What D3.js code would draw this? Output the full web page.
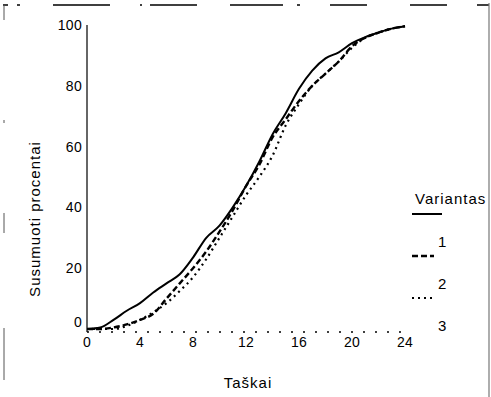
<!DOCTYPE html>
<html>
<head>
<meta charset="utf-8">
<script src="https://cdn.jsdelivr.net/npm/d3@7"></script>
<style>
  body { margin: 0; background: #fff; }
  svg { display: block; font-family: "Liberation Sans", Arial, sans-serif; }
</style>
</head>
<body>
<div id="chart"></div>
<script>
const width = 491;
const height = 397;

// scores 0..24
const points = d3.range(0, 25);
const xTicks = [0, 4, 8, 12, 16, 20, 24];
const yTicks = [0, 20, 40, 60, 80, 100];

// cumulative percent per variant
const variant1 = [0, 0.5, 3, 6, 8.5, 12, 15, 18, 23.5, 30, 34, 40, 47, 55, 64, 71, 79, 85, 89, 91, 94, 96, 97.5, 98.8, 99.6];
const variant2 = [0, 0, 0.5, 1.5, 3, 5, 10, 15, 20, 25.5, 32, 39, 47, 54, 63, 69, 75, 80, 84, 88, 93, 95.8, 97.5, 98.8, 99.6];
const variant3 = [0, 0, 0, 1, 3, 5.5, 8.5, 12.5, 17, 23, 30, 37, 44, 50, 57, 67, 74, 80, 84, 88, 92.5, 95.8, 97.5, 98.8, 99.6];
const variantNames = ["1", "2", "3"];

const series = [
	{ name: variantNames[0], values: variant1, dash: null, w: 2 },
	{ name: variantNames[1], values: variant2, dash: "6,3", w: 2.4 },
	{ name: variantNames[2], values: variant3, dash: "2,4", w: 2.2 }
];

const svg = d3.select("#chart")
	.append("svg")
	.attr("width", width)
	.attr("height", height);

// scanned page frame fragments
svg.append("line")
	.attr("x1", 3).attr("y1", 5).attr("x2", 489).attr("y2", 5)
	.attr("stroke", "#000").attr("stroke-width", 1.5)
	.attr("stroke-dasharray", "5,9,3,33,57,30,2,8,47,33,53,14,3,30,37,43,37,30,12");
svg.append("line")
	.attr("x1", 489).attr("y1", 3).attr("x2", 489).attr("y2", 397)
	.attr("stroke", "#777").attr("stroke-width", 1.2);
svg.append("line")
	.attr("x1", 4).attr("y1", 5).attr("x2", 4).attr("y2", 380)
	.attr("stroke", "#555").attr("stroke-width", 1)
	.attr("stroke-dasharray", "15,100,3,90,20,95,53");

const x = d3.scaleLinear().domain([0, 24]).range([87, 405]);
const y = d3.scaleLinear().domain([0, 100]).range([329, 25]);

// y axis
svg.append("line")
	.attr("x1", 87).attr("x2", 87)
	.attr("y1", y(100)).attr("y2", 332)
	.attr("stroke", "#333").attr("stroke-width", 1.5);

svg.selectAll(".ylab")
	.data(yTicks)
	.enter()
	.append("text")
	.attr("class", "ylab")
	.attr("x", 82)
	.attr("y", d => (d === 0 ? y(d) - 2 : y(d) + 5))
	.attr("text-anchor", "end")
	.style("font-size", "14px")
	.style("letter-spacing", "0.3px")
	.text(d => d);

// x axis (broken in the scan)
svg.append("line")
	.attr("x1", x(0)).attr("x2", x(24))
	.attr("y1", 332).attr("y2", 332)
	.attr("stroke", "#000").attr("stroke-width", 1.4)
	.attr("stroke-dasharray", "2,10");

svg.selectAll(".xlab")
	.data(xTicks)
	.enter()
	.append("text")
	.attr("class", "xlab")
	.attr("x", d => x(d))
	.attr("y", 347)
	.attr("text-anchor", "middle")
	.style("font-size", "14px")
	.style("letter-spacing", "0.3px")
	.text(d => d);

// axis titles
svg.append("text")
	.attr("transform", "translate(40,219) rotate(-90)")
	.attr("text-anchor", "middle")
	.style("font-size", "15px")
	.style("letter-spacing", "1px")
	.text("Susumuoti procentai");

svg.append("text")
	.attr("x", 248)
	.attr("y", 388)
	.attr("text-anchor", "middle")
	.style("font-size", "15px")
	.style("letter-spacing", "1px")
	.text("Taškai");

// curves
const line = d3.line()
	.x((d, i) => x(points[i]))
	.y(d => y(d))
	.curve(d3.curveMonotoneX);

svg.selectAll(".curve")
	.data(series)
	.enter()
	.append("path")
	.attr("class", "curve")
	.attr("d", d => line(d.values))
	.attr("fill", "none")
	.attr("stroke", "#000")
	.attr("stroke-width", d => d.w)
	.attr("stroke-dasharray", d => d.dash);

// legend
svg.append("text")
	.attr("x", 415)
	.attr("y", 204)
	.style("font-size", "15px")
	.style("letter-spacing", "1px")
	.text("Variantas");

const leg = svg.selectAll(".leg")
	.data(series)
	.enter()
	.append("g")
	.attr("class", "leg")
	.attr("transform", (d, i) => `translate(412,${214 + i * 42})`);

leg.append("line")
	.attr("x1", 0).attr("x2", (d, i) => (i === 0 ? 30 : 22))
	.attr("y1", 0).attr("y2", 0)
	.attr("stroke", "#000")
	.attr("stroke-width", d => d.w)
	.attr("stroke-dasharray", d => d.dash);

leg.append("text")
	.attr("x", 26)
	.attr("y", 33)
	.style("font-size", "15px")
	.text(d => d.name);
</script>
</body>
</html>
